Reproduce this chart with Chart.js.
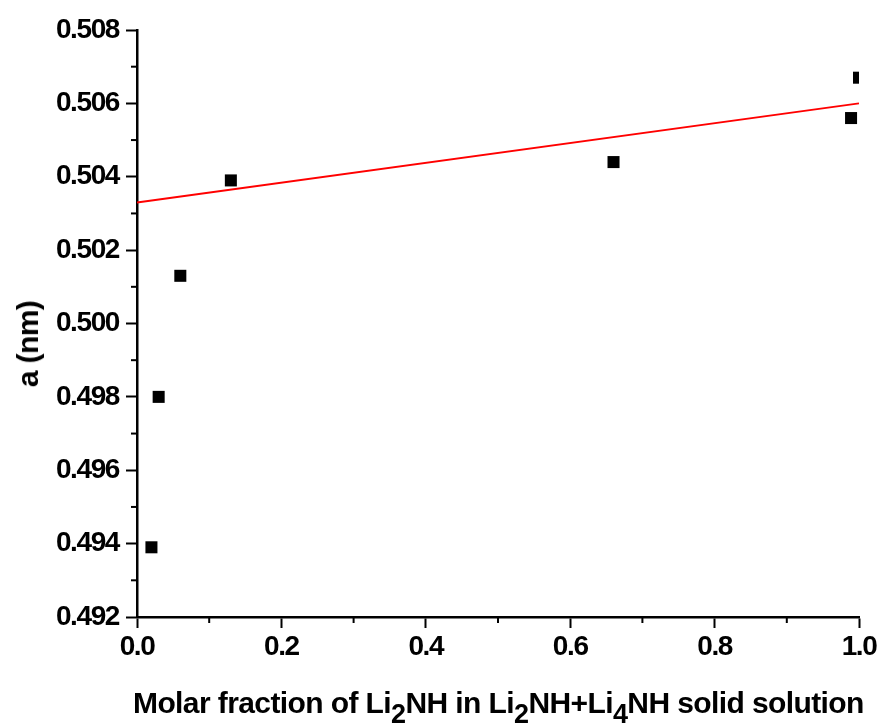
<!DOCTYPE html>
<html>
<head>
<meta charset="utf-8">
<script src="https://cdn.jsdelivr.net/npm/chart.js@4.4.1/dist/chart.umd.min.js"></script>
<style>
  body { margin: 0; background: #fff; }
  #wrap { position: relative; width: 882px; height: 723px; overflow: hidden; }
  .axis-title { position: absolute; font-family: "Liberation Sans", Arial, sans-serif; font-weight: bold; color: #000; white-space: nowrap; letter-spacing: -0.6px; }
  #x-title { left: 133px; top: 688px; font-size: 30px; line-height: 30px; }
  #x-title sub { font-size: 27px; vertical-align: baseline; position: relative; top: 10px; }
  #y-title { left: 28px; top: 344px; font-size: 30px; line-height: 30px; transform: translate(-50%, -50%) rotate(-90deg); }
</style>
</head>
<body>
<div id="wrap">
  <canvas id="chart" width="882" height="723"></canvas>
  <div class="axis-title" id="y-title">a (nm)</div>
  <div class="axis-title" id="x-title">Molar fraction of Li<sub>2</sub>NH in Li<sub>2</sub>NH+Li<sub>4</sub>NH solid solution</div>
</div>
<script>
// measured lattice parameter vs molar fraction of Li2NH
const fraction = [0.020, 0.030, 0.060, 0.130, 0.660, 0.989, 1.000];
const latticeA = [0.4939, 0.4980, 0.5013, 0.5039, 0.5044, 0.5056, 0.5067];

// linear fit (red line), end points
const fitFraction = [0, 1];
const fitA = [0.5033, 0.5060];

// major ticks
const xTicks = [0, 0.2, 0.4, 0.6, 0.8, 1.0];
const yTicks = [0.492, 0.494, 0.496, 0.498, 0.500, 0.502, 0.504, 0.506, 0.508];

const tickFont = { family: 'Liberation Sans', size: 28, weight: 'bold' };

// narrower text, like the original
const tightText = {
  id: 'tightText',
  beforeDraw(chart) { chart.ctx.letterSpacing = '-1.4px'; }
};

// minor ticks halfway between the major ones
const minorTicks = {
  id: 'minorTicks',
  afterDraw(chart) {
    const { ctx, chartArea, scales } = chart;
    const xs = scales.x.ticks, ys = scales.y.ticks;
    ctx.save();
    ctx.strokeStyle = '#000';
    ctx.lineWidth = 2;
    for (let i = 0; i < xs.length - 1; i++) {
      const px = scales.x.getPixelForValue((xs[i].value + xs[i + 1].value) / 2);
      ctx.beginPath();
      ctx.moveTo(px, chartArea.bottom);
      ctx.lineTo(px, chartArea.bottom + 6);
      ctx.stroke();
    }
    for (let i = 0; i < ys.length - 1; i++) {
      const py = scales.y.getPixelForValue((ys[i].value + ys[i + 1].value) / 2);
      ctx.beginPath();
      ctx.moveTo(chartArea.left, py);
      ctx.lineTo(chartArea.left - 6, py);
      ctx.stroke();
    }
    ctx.restore();
  }
};

new Chart(document.getElementById('chart'), {
  type: 'scatter',
  data: {
    datasets: [
      {
        type: 'line',
        label: 'Linear fit',
        data: fitFraction.map((x, i) => ({ x, y: fitA[i] })),
        borderColor: '#ff0000',
        borderWidth: 2,
        pointRadius: 0,
        clip: false,
        order: 2,
      },
      {
        label: 'a',
        data: fraction.map((x, i) => ({ x, y: latticeA[i] })),
        pointStyle: 'rect',
        pointRadius: 8.5,
        backgroundColor: '#000',
        borderWidth: 0,
        clip: 0,
        order: 1,
      },
    ],
  },
  options: {
    responsive: false,
    animation: false,
    layout: { padding: { top: 30, right: 23, left: 0, bottom: 0 } },
    plugins: { legend: { display: false }, tooltip: { enabled: false } },
    scales: {
      x: {
        type: 'linear',
        min: 0,
        max: 1,
        afterBuildTicks: s => { s.ticks = xTicks.map(v => ({ value: v })); },
        afterFit: s => { s.height = 106; },
        ticks: { callback: v => v.toFixed(1), font: tickFont, color: '#000', padding: 2, maxRotation: 0, autoSkip: false },
        grid: { drawOnChartArea: false, tickLength: 11, tickWidth: 2, tickColor: '#000' },
        border: { color: '#000', width: 2.5 },
      },
      y: {
        type: 'linear',
        min: 0.492,
        max: 0.508,
        afterBuildTicks: s => { s.ticks = yTicks.map(v => ({ value: v })); },
        afterFit: s => { s.width = 137; },
        ticks: { callback: v => v.toFixed(3), font: tickFont, color: '#000', padding: 7, autoSkip: false },
        grid: { drawOnChartArea: false, tickLength: 11, tickWidth: 2, tickColor: '#000' },
        border: { color: '#000', width: 2.5 },
      },
    },
  },
  plugins: [tightText, minorTicks],
});
</script>
</body>
</html>
